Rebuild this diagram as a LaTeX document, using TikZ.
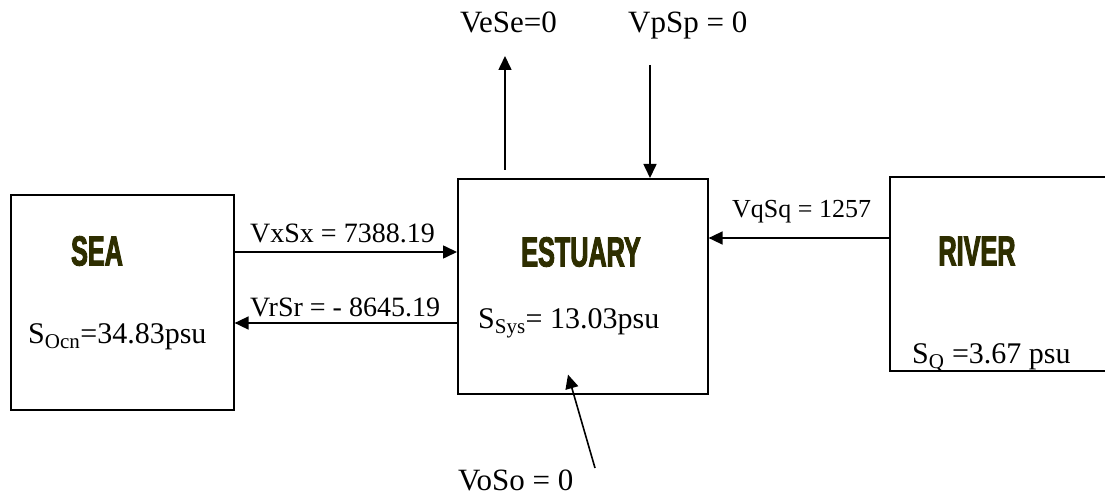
\documentclass[tikz,border=0pt]{standalone}
\usepackage{fontspec}
\setmainfont{Liberation Serif}
\newfontfamily\titlefont[FakeStretch=0.6, FakeBold=2.2]{Liberation Sans Bold}
\usetikzlibrary{positioning, arrows.meta}
\definecolor{titleOlive}{HTML}{2E2E00}
\definecolor{lineBlack}{HTML}{000000}

\begin{document}
\begin{tikzpicture}[x=1pt, y=-1pt,
  every node/.style={inner sep=0pt},
  tank/.style={rectangle, draw=lineBlack, line width=1.6pt, anchor=north west},
  title/.style={font=\titlefont\fontsize{42}{46}\selectfont, text=titleOlive},
  salt/.style={font=\fontsize{30}{34}\selectfont, anchor=base west},
  flux/.style={font=\fontsize{28}{32}\selectfont, anchor=base west},
  topflux/.style={font=\fontsize{31}{35}\selectfont, anchor=base west},
  flow/.style={line width=1.6pt, -{Triangle[length=14pt, width=13pt]}},
]
  \useasboundingbox (0,0) rectangle (1105,497);

  \node[tank, minimum width=223pt, minimum height=215pt] (sea) at (10,194) {};
  \node[tank, minimum width=250pt, minimum height=215pt] (estuary) at (457,178) {};
  \node[tank, minimum width=230pt, minimum height=194pt] (river) at (889,176) {};

  \node[title] (seaName) at (97,251) {SEA};
  \node[title] (estName) at (581,252) {ESTUARY};
  \node[title] (rivName) at (977,251) {RIVER};

  \node[salt] (seaSalt) at (28,343) {S\textsubscript{Ocn}=34.83psu};
  \node[salt] (estSalt) at (478,328) {S\textsubscript{Sys}= 13.03psu};
  \node[salt] (rivSalt) at (912,363) {S\textsubscript{Q} =3.67 psu};

  \draw[flow] ([yshift=-58pt]sea.north east) -- ([yshift=-74pt]estuary.north west);
  \draw[flow] ([yshift=-145pt]estuary.north west) -- ([yshift=-129pt]sea.north east);
  \draw[flow] ([yshift=-62pt]river.north west) -- ([yshift=-60pt]estuary.north east);

  \coordinate (evapEnd) at (505,56);
  \coordinate (precipStart) at (650,65);
  \coordinate (otherStart) at (595,468);
  \draw[flow] ([xshift=48pt, yshift=8pt]estuary.north west) -- (evapEnd);
  \draw[flow] (precipStart) -- ([xshift=193pt]estuary.north west);
  \draw[flow] (otherStart) -- ([xshift=111pt, yshift=20pt]estuary.south west);

  \node[flux] (inLabel) at (250,242) {VxSx = 7388.19};
  \node[flux] (outLabel) at (250,316) {VrSr = - 8645.19};
  \node[flux, font=\fontsize{26}{30}\selectfont] (riverLabel) at (732,217) {VqSq = 1257};
  \node[topflux] (evapLabel) at (460,33) {VeSe=0};
  \node[topflux] (precipLabel) at (628,33) {VpSp = 0};
  \node[topflux] (otherLabel) at (458,490) {VoSo = 0};
\end{tikzpicture}
\end{document}
